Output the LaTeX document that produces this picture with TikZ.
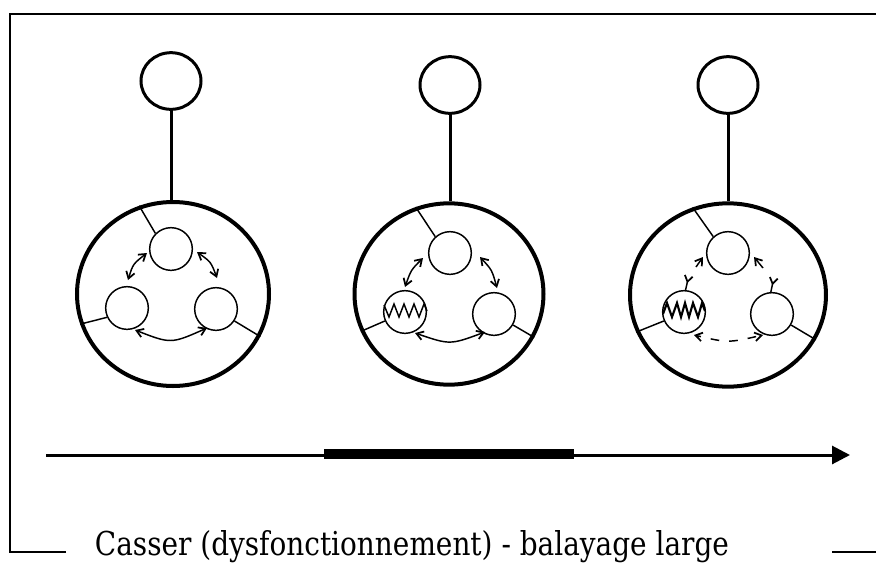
\documentclass[tikz,border=0pt]{standalone}
\usepackage{fontspec}
\usepackage{graphicx}
\setmainfont{DejaVu Serif}
\usetikzlibrary{shapes.geometric,arrows.meta}
\begin{document}
\begin{tikzpicture}[x=0.75pt,y=-0.75pt,
  head/.style={draw,ellipse,line width=2.25pt,minimum width=45pt,minimum height=42.5pt,inner sep=0pt},
  body/.style={draw,ellipse,line width=3pt,inner sep=0pt},
  cell/.style={draw,circle,line width=1.1pt,minimum size=32pt,inner sep=0pt},
  stem/.style={line width=2.25pt},
  link/.style={line width=1.1pt},
  frame/.style={line width=1.9pt},
  barb/.tip={Straight Barb[length=5pt,width=6.5pt,line width=1.3pt]},
  rbarb/.tip={Straight Barb[reversed,length=4.5pt,width=6pt,line width=1.3pt]},
  arr/.style={line width=1.1pt,barb-barb},
  brokenarr/.style={line width=1.1pt,barb-barb,dash pattern=on 6.5pt off 7.5pt,dash phase=3pt},
  zig/.style={line width=1.1pt,line join=miter},
  zigb/.style={line width=1.6pt,line join=miter}
]
\useasboundingbox (0,0) rectangle (876,565);
\clip (0,0) rectangle (876,565);

% frame
\coordinate (f1) at (66,552);
\coordinate (f2) at (10,552);
\coordinate (f3) at (10,14);
\coordinate (f4) at (876,14);
\coordinate (f5) at (832,552);
\coordinate (f6) at (876,552);
\draw[frame] (f1) -- (f2) -- (f3) -- (f4);
\draw[frame] (f5) -- (f6);

% heads and bodies
\node[head] (h1) at (171,81) {};
\node[head] (h2) at (450,85) {};
\node[head] (h3) at (728,85) {};
\node[body,minimum width=144pt,minimum height=138pt] (b1) at (173,294) {};
\node[body,minimum width=141.75pt,minimum height=136pt] (b2) at (449,294) {};
\node[body,minimum width=147pt,minimum height=137.5pt] (b3) at (728,295) {};
\draw[stem] (h1.south) -- (h1.south |- b1.north);
\draw[stem] (h2.south) -- (h2.south |- b2.north);
\draw[stem] (h3.south) -- (h3.south |- b3.north);

% cells
\node[cell] (t1) at (171,249) {};
\node[cell] (l1) at (127,308) {};
\node[cell] (r1) at (216,309) {};
\node[cell] (t2) at (450,253) {};
\node[cell] (l2) at (405,312) {};
\node[cell] (r2) at (494,314) {};
\node[cell] (t3) at (728,253) {};
\node[cell] (l3) at (684,312) {};
\node[cell] (r3) at (772,314) {};

% links to the membrane
\draw[link] (t1.135) -- (b1.111);
\draw[link] (l1.205) -- (b1.198);
\draw[link] (r1.327) -- (b1.334);
\draw[link] (t2.132) -- (b2.111);
\draw[link] (l2.204) -- (b2.203);
\draw[link] (r2.330) -- (b2.333);
\draw[link] (t3.132) -- (b3.112);
\draw[link] (l3.204) -- (b3.202);
\draw[link] (r3.330) -- (b3.333);

% arrows, first cell
\coordinate (a1) at (147,253); \coordinate (a1c) at (133,264); \coordinate (a1e) at (128,280);
\coordinate (b1s) at (197,252); \coordinate (b1c) at (211,262); \coordinate (b1e) at (217,278);
\coordinate (c1s) at (135,330); \coordinate (c1c) at (171,344); \coordinate (c1e) at (207,328);
\draw[arr] (a1) .. controls (a1c) .. (a1e);
\draw[arr] (b1s) .. controls (b1c) .. (b1e);
\draw[arr] (c1s) .. controls (c1c) .. (c1e);

% arrows, second cell
\coordinate (a2) at (423,258); \coordinate (a2c) at (411,270); \coordinate (a2e) at (405,287);
\coordinate (b2s) at (480,257); \coordinate (b2c) at (492,270); \coordinate (b2e) at (497,288);
\coordinate (c2s) at (415,333); \coordinate (c2c) at (450,345); \coordinate (c2e) at (485,332);
\draw[arr] (a2) .. controls (a2c) .. (a2e);
\draw[arr] (b2s) .. controls (b2c) .. (b2e);
\draw[arr] (c2s) .. controls (c2c) .. (c2e);

% broken arrows, third cell
\coordinate (a3s) at (696,267); \coordinate (a3e) at (703,257);
\coordinate (a3y) at (689,275);
\draw[link,-barb] (a3s) -- (a3e);
\draw[link,-rbarb] (l3.86) -- (a3y);
\coordinate (b3s) at (763,268); \coordinate (b3e) at (754,257);
\coordinate (b3y) at (774,277);
\draw[link,-barb] (b3s) -- (b3e);
\draw[link,-rbarb] (r3.93) -- (b3y);
\coordinate (c3s) at (694,335); \coordinate (c3c) at (728,343); \coordinate (c3e) at (763,335);
\draw[brokenarr] (c3s) .. controls (c3c) .. (c3e);

% zigzags
\draw[zig] (384,305) -- (389,317) -- (394,304) -- (399,317) -- (404,304) -- (409,317) -- (414,304) -- (419,317) -- (424,304) -- (427,311);
\draw[zigb] (663,314) -- (667,303) -- (672,317) -- (677,303) -- (681,317) -- (685,303) -- (689,317) -- (693,303) -- (698,317) -- (702,303) -- (705,311);

% time axis
\coordinate (x0) at (46,455);
\coordinate (x1) at (850,455);
\coordinate (k0) at (324,454);
\coordinate (k1) at (574,454);
\draw[line width=2.25pt,-{Triangle[length=13.5pt,width=13.5pt]}] (x0) -- (x1);
\draw[line width=7.5pt] (k0) -- (k1);

% caption
\node[anchor=base,inner sep=0pt] (cap) at (412,555)
  {\resizebox{475.5pt}{18.75pt}{Casser (dysfonctionnement) - balayage large}};
\end{tikzpicture}
\end{document}
